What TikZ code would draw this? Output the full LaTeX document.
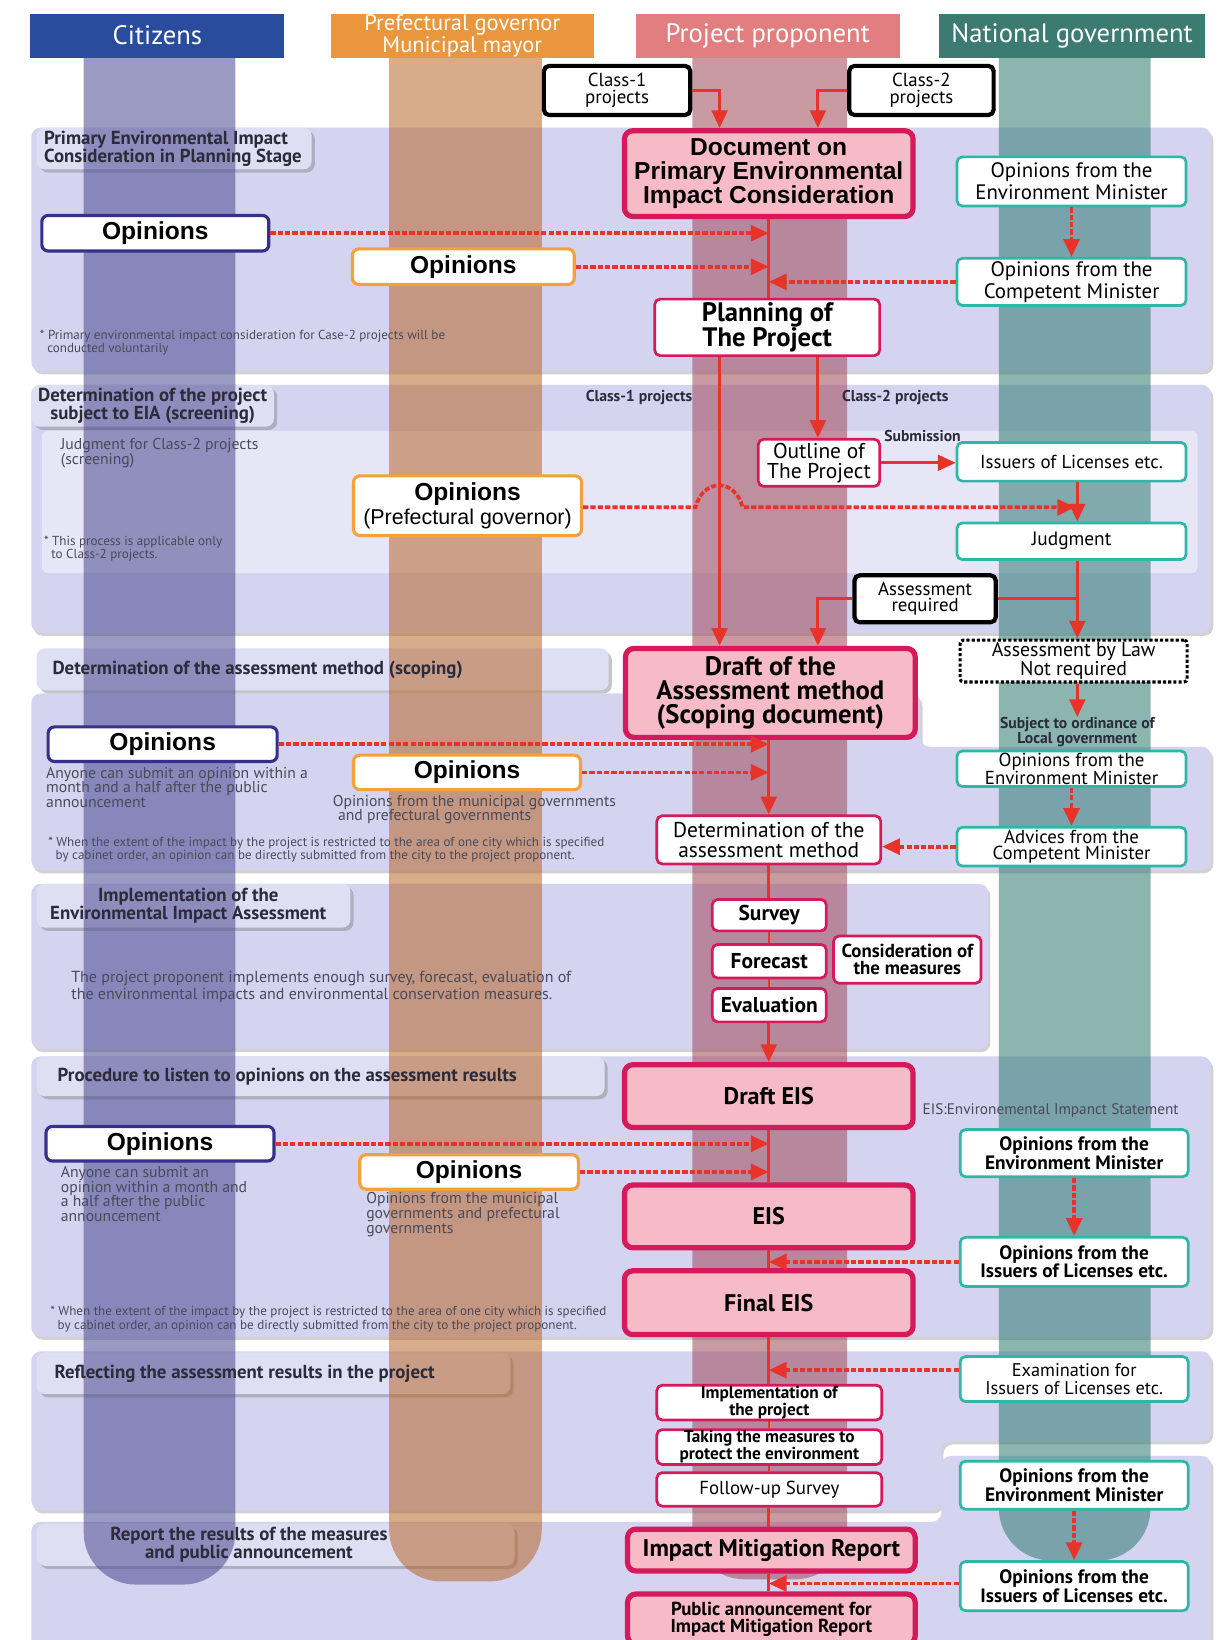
\documentclass[tikz,border=0pt]{standalone}
\usepackage{fontspec}
\setmainfont{Liberation Sans}
\newfontfamily\cond{PT Sans}
\usetikzlibrary{arrows.meta,shadows}
\definecolor{crim}{HTML}{D6195B}
\definecolor{pinkf}{HTML}{F6BBC7}
\definecolor{navyb}{HTML}{36308C}
\definecolor{orb}{HTML}{F2A23A}
\definecolor{tealb}{HTML}{2FB7A6}
\definecolor{arr}{HTML}{E8332A}
\definecolor{lav}{HTML}{D4D4F1}
\definecolor{tabc}{HTML}{DFDFF4}
\definecolor{hcit}{HTML}{2A4C9C}
\definecolor{hpre}{HTML}{E9963C}
\definecolor{hpro}{HTML}{E27E80}
\definecolor{hnat}{HTML}{3C7B72}
\definecolor{lcit}{HTML}{4A4890}
\definecolor{lpre}{HTML}{B8662A}
\definecolor{lpro}{HTML}{A04858}
\definecolor{lnat}{HTML}{2F7A70}
\definecolor{txt}{HTML}{2B2B3A}
\definecolor{gtxt}{HTML}{4A4A58}
\newcommand\fsz[2]{\fontsize{#1}{#2}\selectfont}
\begin{document}
\begin{tikzpicture}[x=1pt,y=-1pt,
  panel/.style={fill=lav, rounded corners=9pt, drop shadow={opacity=0.35,shadow xshift=2pt,shadow yshift=-3pt}},
  tabbox/.style={fill=tabc, rounded corners=8pt, inner sep=0pt, drop shadow={opacity=0.45,shadow xshift=3pt,shadow yshift=-3pt}},
  tablbl/.style={font=\cond\bfseries\fsz{18}{16}, text=txt, inner sep=0pt},
  hdr/.style={text=white, font=\cond\fsz{25.5}{20}, inner sep=0pt, align=center},
  wh/.style 2 args={minimum width=#1, minimum height=#2},
  wbox/.style={draw=crim, line width=2.6pt, fill=white, rounded corners=5pt, align=center, inner sep=1pt},
  pbox/.style={draw=crim, line width=5pt, fill=pinkf, rounded corners=8pt, align=center, inner sep=1pt},
  tbox/.style={draw=tealb, line width=2.6pt, fill=white, rounded corners=5pt, align=center, inner sep=1pt},
  nbox/.style={draw=navyb, line width=3pt, fill=white, rounded corners=6pt, inner sep=1pt, font=\bfseries\fsz{23.5}{23}},
  obox/.style={draw=orb, line width=3pt, fill=white, rounded corners=6pt, inner sep=1pt, align=center, font=\bfseries\fsz{23.5}{23}},
  kbox/.style={draw=black, line width=4pt, fill=white, rounded corners=5pt, align=center, inner sep=1pt, font=\cond\fsz{18}{16}},
  flow/.style={draw=arr, line width=3pt, -{Triangle[length=17pt,width=15pt]}},
  dflow/.style={draw=arr, line width=3.5pt, dash pattern=on 5pt off 2pt, -{Triangle[length=17pt,width=15pt]}},
  link/.style={draw=arr, line width=3pt},
  thinlink/.style={draw=arr, line width=2pt},
  note/.style={font=\cond\fsz{12.5}{12.5}, text=gtxt, align=left, inner sep=0pt, anchor=north west},
  body/.style={font=\cond\fsz{15}{14}, text=gtxt, align=left, inner sep=0pt, anchor=north west},
  lbl/.style={font=\cond\bfseries\fsz{15}{15}, text=txt, inner sep=0pt},
]
\useasboundingbox (0,0) rectangle (1170,1568);
\clip (0,0) rectangle (1170,1568);
\fill[white] (0,0) rectangle (1170,1568);

% ---------- stage panels
\path[panel] (30,122) rectangle (1158,355);
\path[panel] (30,368) rectangle (1158,605);
\fill[white, opacity=0.42, rounded corners=6pt] (40,412) rectangle (1145,548);
\path[panel] (30,663) -- (880,663) -- (880,714) -- (1158,714) -- (1158,832) -- (30,832) -- cycle;
\path[panel] (30,845) rectangle (945,1003);
\path[panel] (30,1010) rectangle (1158,1278);
\path[panel] (30,1292) -- (1158,1292) -- (1158,1378) -- (900,1378) -- (900,1444) -- (30,1444) -- cycle;
\path[panel] (30,1455) -- (900,1455) -- (900,1392) -- (1158,1392) -- (1158,1600) -- (30,1600) -- cycle;

% ---------- stage tabs
\node[tabbox, wh={263pt}{40pt}] (t1) at (166.5,142) {};
\node[tabbox, wh={232pt}{40pt}] (t2) at (146,388) {};
\node[tabbox, wh={547pt}{40pt}] (t3) at (308.5,640) {};
\node[tabbox, wh={300pt}{42pt}] (t4) at (185,866) {};
\node[tabbox, wh={543pt}{38pt}] (t5) at (306.5,1029) {};
\node[tabbox, wh={453pt}{40pt}] (t6) at (261.5,1313) {};
\node[tabbox, wh={457pt}{40pt}] (t7) at (263.5,1477) {};

% ---------- lanes
\fill[lcit, opacity=0.55, rounded corners=50pt] (80,-100) rectangle (225,1515);
\fill[lpre, opacity=0.55, rounded corners=50pt] (372,-100) rectangle (518,1512);
\fill[lpro, opacity=0.55, rounded corners=50pt] (662,-100) rectangle (810,1510);
\fill[lnat, opacity=0.55, rounded corners=50pt] (955,-100) rectangle (1100,1492);

% ---------- headers
\fill[white] (0,0) rectangle (1170,13);
\node[hdr, fill=hcit, wh={243pt}{42pt}] (hc) at (150.5,34) {Citizens};
\node[hdr, fill=hpre, wh={252pt}{42pt}, font=\cond\fsz{21.5}{19}] (hp) at (442,34) {Prefectural governor\\Municipal mayor};
\node[hdr, fill=hpro, wh={252pt}{42pt}] (hr) at (734,34) {Project proponent};
\node[hdr, fill=hnat, wh={254pt}{42pt}] (hn) at (1025,34) {National government};

% ---------- tab labels
\node[tablbl, anchor=west, align=left] (t1l) at (42,142) {Primary Environmental Impact\\Consideration in Planning Stage};
\node[tablbl, align=center] (t2l) at (146,388) {Determination of the project\\subject to EIA (screening)};
\node[tablbl, anchor=west] (t3l) at (50,640) {Determination of the assessment method (scoping)};
\node[tablbl, align=center] (t4l) at (180,866) {Implementation of the\\Environmental Impact Assessment};
\node[tablbl, anchor=west] (t5l) at (55,1029) {Procedure to listen to opinions on the assessment results};
\node[tablbl, anchor=west] (t6l) at (52,1313) {Reflecting the assessment results in the project};
\node[tablbl, align=center] (t7l) at (238,1477) {Report the results of the measures\\and public announcement};

% ---------- nodes: stage 1
\node[kbox, wh={140pt}{47pt}] (c1) at (590,86.5) {Class-1\\projects};
\node[kbox, wh={138pt}{47pt}] (c2) at (881,86.5) {Class-2\\projects};
\node[pbox, wh={276pt}{82pt}, font=\bfseries\fsz{23.5}{23}] (doc) at (735,166) {Document on\\Primary Environmental\\Impact Consideration};
\node[nbox, wh={217pt}{34pt}] (opc1) at (148.5,223) {Opinions};
\node[obox, wh={212pt}{34pt}] (opp1) at (443,255) {Opinions};
\node[tbox, wh={219pt}{47pt}, font=\cond\fsz{20}{21}] (em1) at (1024.5,173.5) {Opinions from the\\Environment Minister};
\node[tbox, wh={219pt}{45pt}, font=\cond\fsz{20}{21}] (cm1) at (1024.5,269.5) {Opinions from the\\Competent Minister};
\node[wbox, wh={215pt}{54pt}, font=\cond\bfseries\fsz{25.5}{24}] (plan) at (733.5,313) {Planning of\\The Project};

% ---------- stage 2
\node[wbox, wh={116pt}{45pt}, font=\cond\fsz{20.5}{19}] (outl) at (783,442.5) {Outline of\\The Project};
\node[tbox, wh={219pt}{37pt}, font=\cond\fsz{18}{18}] (iss) at (1024.5,441.5) {Issuers of Licenses etc.};
\node[obox, wh={218pt}{57pt}] (oppg) at (447,483.5) {Opinions\\{\mdseries\fsz{20.5}{21}(Prefectural governor)}};
\node[tbox, wh={219pt}{35pt}, font=\cond\fsz{18.5}{18}] (jud) at (1024.5,517.5) {Judgment};
\node[kbox, wh={135pt}{45pt}] (areq) at (884.5,572.5) {Assessment\\required};

% ---------- stage 3
\node[pbox, wh={277pt}{85pt}, font=\cond\bfseries\fsz{25.5}{23}] (dam) at (736.5,662.5) {Draft of the\\Assessment method\\(Scoping document)};
\node[draw=black, line width=3pt, dash pattern=on 3pt off 2pt, fill=white, rounded corners=3pt, wh={217pt}{40pt}, align=center, inner sep=1pt, font=\cond\fsz{19}{16}] (nreq) at (1026.5,632) {Assessment by Law\\Not required};
\node[font=\cond\bfseries\fsz{15}{13}, align=center, inner sep=0pt, text=txt] (subj) at (1030,700) {Subject to ordinance of\\Local government};
\node[nbox, wh={219pt}{33pt}] (opc2) at (155.5,711.5) {Opinions};
\node[obox, wh={217pt}{33pt}] (opp2) at (446.5,738.5) {Opinions};
\node[tbox, wh={219pt}{34pt}, font=\cond\fsz{18}{15.5}] (em2) at (1024.5,735) {Opinions from the\\Environment Minister};
\node[tbox, wh={219pt}{37pt}, font=\cond\fsz{18}{15.5}] (cm2) at (1024.5,809.5) {Advices from the\\Competent Minister};
\node[wbox, wh={214pt}{46pt}, font=\cond\fsz{20.5}{19}] (detam) at (735,803) {Determination of the\\assessment method};

% ---------- stage 4
\node[wbox, wh={109pt}{30pt}, font=\cond\bfseries\fsz{20.5}{19}] (surv) at (735.5,875) {Survey};
\node[wbox, wh={109pt}{32pt}, font=\cond\bfseries\fsz{20.5}{19}] (fore) at (735.5,919) {Forecast};
\node[wbox, wh={109pt}{32pt}, font=\cond\bfseries\fsz{20.5}{19}] (eval) at (735.5,961) {Evaluation};
\node[wbox, wh={141pt}{45pt}, font=\cond\bfseries\fsz{18}{16}] (cons) at (867.5,917.5) {Consideration of\\the measures};

% ---------- stage 5
\node[pbox, wh={276pt}{60pt}, font=\cond\bfseries\fsz{23}{23}] (deis) at (735,1048) {Draft EIS};
\node[nbox, wh={218pt}{33pt}] (opc3) at (153,1093.5) {Opinions};
\node[obox, wh={209pt}{33pt}] (opp3) at (448.5,1120.5) {Opinions};
\node[tbox, wh={218pt}{45pt}, font=\cond\bfseries\fsz{18.5}{17.5}] (em3) at (1027,1102.5) {Opinions from the\\Environment Minister};
\node[tbox, wh={218pt}{47pt}, font=\cond\bfseries\fsz{18.5}{17.5}] (il3) at (1027,1206.5) {Opinions from the\\Issuers of Licenses etc.};
\node[pbox, wh={276pt}{60pt}, font=\cond\bfseries\fsz{23}{23}] (eis) at (735,1163) {EIS};
\node[pbox, wh={276pt}{61pt}, font=\cond\bfseries\fsz{23}{23}] (feis) at (735,1245.5) {Final EIS};

% ---------- stage 6 / 7
\node[tbox, wh={218pt}{43pt}, font=\cond\fsz{17.5}{16.5}] (exam) at (1027,1318.5) {Examination for\\Issuers of Licenses etc.};
\node[wbox, wh={215pt}{32pt}, font=\cond\bfseries\fsz{16.5}{14}] (impl) at (735.5,1341) {Implementation of\\the project};
\node[wbox, wh={215pt}{33pt}, font=\cond\bfseries\fsz{16.5}{14}] (take) at (735.5,1383.5) {Taking the measures to\\protect the environment};
\node[wbox, wh={215pt}{32pt}, font=\cond\fsz{18}{18}] (foll) at (735.5,1424) {Follow-up Survey};
\node[pbox, wh={275pt}{40pt}, font=\cond\bfseries\fsz{23}{23}] (imr) at (737.5,1482) {Impact Mitigation Report};
\node[tbox, wh={218pt}{46pt}, font=\cond\bfseries\fsz{18.5}{17.5}] (em4) at (1027,1420) {Opinions from the\\Environment Minister};
\node[tbox, wh={218pt}{47pt}, font=\cond\bfseries\fsz{18.5}{17.5}] (il4) at (1027,1516.5) {Opinions from the\\Issuers of Licenses etc.};
\node[pbox, wh={275pt}{48pt}, font=\cond\bfseries\fsz{18}{16}] (pub) at (737.5,1548) {Public announcement for\\Impact Mitigation Report};

% ---------- labels and notes
\node[lbl] (lc1) at (611,380) {Class-1 projects};
\node[lbl] (lc2) at (856,380) {Class-2 projects};
\node[lbl] (lsub) at (882,417) {Submission};
\node[note] (n1) at (38,315) {* Primary environmental impact consideration for Case-2 projects will be\\\hspace*{7pt}conducted voluntarily};
\node[body] (n2) at (58,419) {Judgment for Class-2 projects\\(screening)};
\node[note] (n3) at (42,512) {* This process is applicable only\\\hspace*{7pt}to Class-2 projects.};
\node[body] (n4) at (44,733) {Anyone can submit an opinion within a\\month and a half after the public\\announcement};
\node[body] (n5) at (318,760) {Opinions from the municipal governments\\\hspace*{5pt}and prefectural governments};
\node[note] (n6) at (46,800) {* When the extent of the impact by the project is restricted to the area of one city which is specified\\\hspace*{7pt}by cabinet order, an opinion can be directly submitted from the city to the project proponent.};
\node[body, font=\cond\fsz{15.3}{17}] (n7) at (68,928) {The project proponent implements enough survey, forecast, evaluation of\\the environmental impacts and environmental conservation measures.};
\node[body, anchor=west, font=\cond\fsz{14.6}{14}] (n8) at (882,1062) {EIS:Environemental Impanct Statement};
\node[body] (n9) at (58,1115) {Anyone can submit an\\opinion within a month and\\a half after the public\\announcement};
\node[body] (n10) at (350,1140) {Opinions from the municipal\\governments and prefectural\\governments};
\node[note] (n11) at (48,1249) {* When the extent of the impact by the project is restricted to the area of one city which is specified\\\hspace*{7pt}by cabinet order, an opinion can be directly submitted from the city to the project proponent.};

% ---------- connectors
\coordinate (xL) at (688,0);
\coordinate (xR) at (782,0);
\coordinate (xM) at (735,0);
\coordinate (xN) at (1030,0);
\draw[flow] (c1.east) -| (doc.north -| xL);
\draw[flow] (c2.west) -| (doc.north -| xR);
\draw[link] (doc.south -| xM) -- (plan.north -| xM);
\coordinate (m1) at (735,223);
\coordinate (m2) at (735,255);
\coordinate (m3) at (735,269.5);
\draw[dflow] (opc1.east) -- (m1);
\draw[dflow] (opp1.east) -- (m2);
\draw[dflow] (em1.south) -- (cm1.north);
\draw[dflow] (cm1.west) -- (m3);

\draw[flow] (plan.south -| xL) -- (dam.north -| xL);
\draw[flow] (plan.south -| xR) -- (outl.north -| xR);
\draw[flow] (outl.east) -- (outl.east -| iss.west);
\draw[flow] (iss.south -| xN) -- (jud.north -| xN);
\coordinate (h1) at (665,485);
\coordinate (h2) at (710,485);
\coordinate (hj) at (1028,485);
\draw[dflow] (oppg.east |- h1) -- (h1) .. controls (672,457) and (703,457) .. (h2) -- (hj);
\draw[flow] (jud.south -| xN) -- (nreq.north -| xN);
\coordinate (aj) at (1030,572.5);
\draw[link] (areq.east) -- (aj);
\draw[flow] (areq.west) -| (dam.north -| xR);
\draw[flow] (nreq.south -| xN) -- (subj.north);

\coordinate (m4) at (735,711.5);
\coordinate (m5) at (735,738.5);
\draw[dflow] (opc2.east) -- (m4);
\draw[dflow] (opp2.east) -- (m5);
\draw[flow] (dam.south -| xM) -- (detam.north);
\draw[dflow] (em2.south) -- (cm2.north);
\draw[dflow] (cm2.west) -- (cm2.west -| detam.east);

\draw[link] (detam.south) -- (surv.north -| detam.south);
\draw[thinlink] (surv) -- (fore);
\draw[thinlink] (fore) -- (eval);
\draw[flow] (eval.south -| xM) -- (deis.north -| xM);

\coordinate (m6) at (735,1093.5);
\coordinate (m7) at (735,1120.5);
\coordinate (m8) at (735,1206.5);
\draw[dflow] (opc3.east) -- (m6);
\draw[dflow] (opp3.east) -- (m7);
\draw[link] (deis) -- (eis);
\draw[link] (eis) -- (feis);
\draw[dflow] (em3) -- (il3);
\draw[dflow] (il3.west) -- (m8);

\coordinate (m9) at (735,1310);
\coordinate (m10) at (735,1514);
\draw[link] (feis.south -| xM) -- (impl.north -| xM);
\draw[dflow] (exam.west |- m9) -- (m9);
\draw[thinlink] (impl) -- (take);
\draw[thinlink] (take) -- (foll);
\draw[link] (foll.south -| xM) -- (imr.north -| xM);
\draw[dflow] (em4) -- (il4);
\draw[dflow] (il4.west |- m10) -- (m10);
\draw[link] (imr.south -| xM) -- (pub.north -| xM);
\end{tikzpicture}
\end{document}
